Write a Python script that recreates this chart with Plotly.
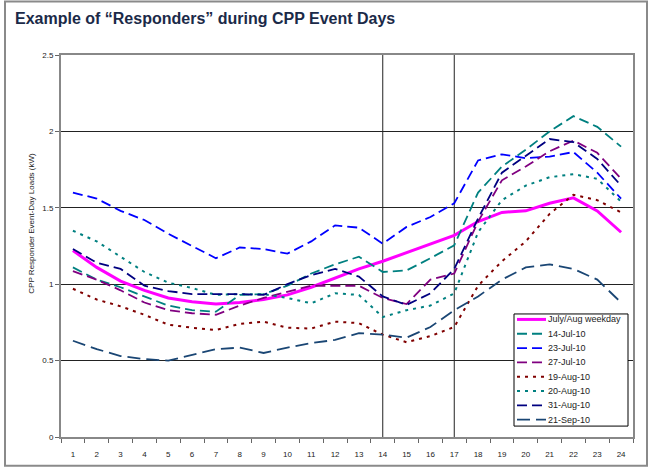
import plotly.graph_objects as go

# ---------------- data ----------------
hours = list(range(1, 25))
hour_labels = [str(h) for h in hours]

series_names = ["July/Aug weekday", "14-Jul-10", "23-Jul-10", "27-Jul-10",
                "19-Aug-10", "20-Aug-10", "31-Aug-10", "21-Sep-10"]

weekday = [1.22, 1.11, 1.02, 0.96, 0.91, 0.885, 0.87, 0.88, 0.90, 0.93, 0.98, 1.04,
           1.10, 1.15, 1.205, 1.26, 1.32, 1.41, 1.47, 1.48, 1.53, 1.565, 1.48, 1.34]
jul14 = [1.11, 1.03, 0.98, 0.92, 0.86, 0.83, 0.82, 0.93, 0.935, 0.99, 1.07, 1.13,
         1.18, 1.08, 1.09, 1.17, 1.255, 1.60, 1.77, 1.88, 2.00, 2.10, 2.03, 1.90]
jul23 = [1.60, 1.56, 1.48, 1.42, 1.33, 1.25, 1.17, 1.24, 1.23, 1.20, 1.28, 1.385,
         1.37, 1.265, 1.375, 1.44, 1.53, 1.81, 1.85, 1.825, 1.835, 1.865, 1.73, 1.56]
jul27 = [1.085, 1.03, 0.96, 0.88, 0.83, 0.81, 0.80, 0.86, 0.91, 0.95, 0.99, 0.99,
         0.99, 0.91, 0.87, 1.03, 1.07, 1.41, 1.68, 1.77, 1.87, 1.94, 1.86, 1.69]
aug19 = [0.97, 0.90, 0.855, 0.80, 0.735, 0.715, 0.70, 0.74, 0.755, 0.715, 0.71, 0.755,
         0.745, 0.67, 0.62, 0.66, 0.72, 0.99, 1.15, 1.28, 1.46, 1.585, 1.55, 1.47]
aug20 = [1.35, 1.28, 1.18, 1.08, 1.01, 0.975, 0.93, 0.935, 0.935, 0.91, 0.875, 0.94,
         0.93, 0.785, 0.83, 0.86, 0.94, 1.34, 1.55, 1.645, 1.70, 1.72, 1.69, 1.54]
aug31 = [1.23, 1.14, 1.10, 0.99, 0.955, 0.935, 0.935, 0.935, 0.93, 1.00, 1.06, 1.10,
         1.05, 0.92, 0.865, 0.94, 1.10, 1.43, 1.73, 1.84, 1.95, 1.93, 1.82, 1.645]
sep21 = [0.63, 0.575, 0.53, 0.51, 0.50, 0.54, 0.575, 0.585, 0.55, 0.585, 0.615, 0.635,
         0.68, 0.67, 0.65, 0.72, 0.83, 0.92, 1.03, 1.11, 1.13, 1.10, 1.03, 0.88]

y_ticks = [0, 0.5, 1, 1.5, 2, 2.5]
y_tick_labels = ["0", "0.5", "1", "1.5", "2", "2.5"]
event_window = [14, 17]

title_text = "Example of \u201cResponders\u201d during CPP Event Days"
y_title = "CPP Responder Event-Day Loads (kW)"

# ---------------- styles ----------------
all_values = [weekday, jul14, jul23, jul27, aug19, aug20, aug31, sep21]
colors = ["#FF00FF", "#008080", "#0000FF", "#800080", "#800000", "#008080", "#000080", "#1A4674"]
dashes = ["solid", "10px,5px", "10px,5px", "10px,5px", "3px,5px", "3px,5px", "10px,5px", "13px,6px"]
widths = [3, 1.8, 1.8, 1.8, 2, 2, 1.8, 1.8]

W, H = 649, 471
L, R, T, B = 61, 16, 55, 31
PW, PH = W - L - R, H - T - B
FONT = "Liberation Sans, Arial, sans-serif"


def px(x):
    return (x - L) / PW


def py(y):
    return (H - B - y) / PH


fig = go.Figure()
for name, vals, c, d, w in zip(series_names, all_values, colors, dashes, widths):
    fig.add_trace(go.Scatter(x=hours, y=vals, mode="lines", name=name,
                             line=dict(color=c, dash=d, width=w), showlegend=False,
                             hoverinfo="skip"))

shapes = []
# event window lines
for ev in event_window:
    shapes.append(dict(type="line", xref="x", yref="paper", x0=ev, x1=ev, y0=0, y1=1,
                       line=dict(color="#222", width=1), layer="below"))
# outer frame
shapes.append(dict(type="rect", xref="paper", yref="paper",
                   x0=px(5), x1=px(647), y0=py(469), y1=py(1),
                   line=dict(color="#8a8a8a", width=2), fillcolor="rgba(0,0,0,0)"))

annotations = [
    dict(text="<b>" + title_text + "</b>", xref="paper", yref="paper", x=px(13), y=py(18),
         xanchor="left", yanchor="middle", showarrow=False,
         font=dict(family=FONT, size=16, color="#1b2a48")),
    dict(text=y_title, xref="paper", yref="paper", x=px(32), y=py(225), textangle=-90,
         xanchor="center", yanchor="middle", showarrow=False,
         font=dict(family=FONT, size=8, color="#222")),
]

# custom compact legend (Excel style)
lg_x0, lg_x1, lg_y0, lg_y1 = 514, 628, 316, 429
shapes.append(dict(type="rect", xref="paper", yref="paper",
                   x0=px(lg_x0), x1=px(lg_x1), y0=py(lg_y1), y1=py(lg_y0),
                   line=dict(color="#000", width=1), fillcolor="white", layer="above"))
row0, step = 321.5, 14.43
for i, (name, c, d, w) in enumerate(zip(series_names, colors, dashes, widths)):
    yy = row0 + i * step
    shapes.append(dict(type="line", xref="paper", yref="paper",
                       x0=px(517), x1=px(546), y0=py(yy), y1=py(yy),
                       line=dict(color=c, dash=d, width=w), layer="above"))
    annotations.append(dict(text=name, xref="paper", yref="paper", x=px(546), y=py(yy),
                            xanchor="left", yanchor="middle", showarrow=False,
                            font=dict(family=FONT, size=9, color="#222")))

fig.update_layout(
    width=W, height=H,
    margin=dict(l=L, r=R, t=T, b=B, pad=0),
    paper_bgcolor="white", plot_bgcolor="white",
    font=dict(family=FONT, size=8, color="#222"),
    shapes=shapes, annotations=annotations,
    hovermode=False,
    xaxis=dict(range=[0.5, 24.5], tickmode="array", tickvals=hours, ticktext=hour_labels,
               ticks="", showgrid=False, zeroline=False,
               showline=True, linecolor="#888", linewidth=2, mirror=True,
               ticklabelstandoff=8,
               minor=dict(ticks="outside", tick0=0.5, dtick=1, ticklen=4,
                          tickcolor="#666", tickwidth=1, showgrid=False),
               tickfont=dict(family=FONT, size=8, color="#222")),
    yaxis=dict(range=[0, 2.5], tickmode="array", tickvals=y_ticks, ticktext=y_tick_labels,
               ticks="outside", ticklen=4, tickcolor="#666",
               showgrid=True, gridcolor="#222", gridwidth=1, zeroline=False,
               showline=True, linecolor="#888", linewidth=2, mirror=True,
               tickfont=dict(family=FONT, size=8, color="#222")),
)

fig.write_html("out.html", config={"displayModeBar": False, "staticPlot": True},
               post_script="document.body.style.margin='0px';document.body.style.overflow='hidden';")
